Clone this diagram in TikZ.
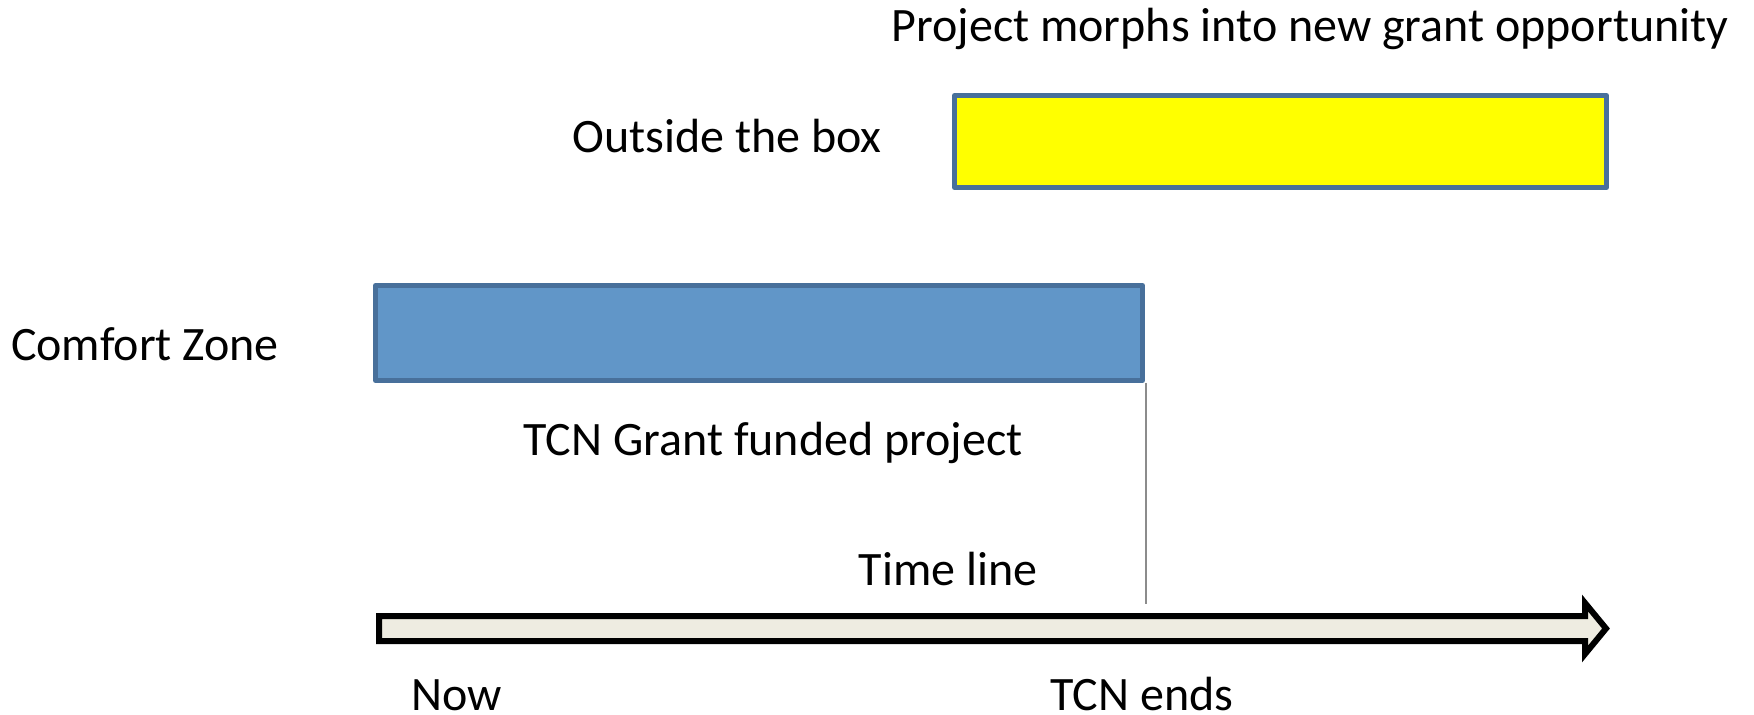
\documentclass[tikz,border=0pt]{standalone}
\usepackage{fontspec}
\setmainfont{Carlito}
\definecolor{boxline}{HTML}{48709B}
\definecolor{bluefill}{HTML}{6196C8}
\definecolor{yellowfill}{HTML}{FFFF00}
\definecolor{arrowfill}{HTML}{EEECE1}
\definecolor{guide}{HTML}{8C8C8C}
\begin{document}
\begin{tikzpicture}[x=0.5pt,y=-0.5pt,
  lbl/.style={anchor=base,inner sep=0pt,font=\fontsize{24}{29}\selectfont},
  bar/.style={draw=boxline,line width=2.5pt,line join=round,inner sep=0pt}]
\useasboundingbox (0,0) rectangle (1754,715);
% boxes
\node[bar,fill=yellowfill,minimum width=326pt,minimum height=46pt] (outside) at (1280.5,141.5) {};
\node[bar,fill=bluefill,minimum width=383.5pt,minimum height=47.5pt] (comfort) at (759,333) {};
% time line arrow
\draw[line width=3pt,fill=arrowfill,line join=miter]
  (379,616) -- (1585,616) -- (1585,603) -- (1606,628.5) -- (1585,654) -- (1585,641) -- (379,641) -- cycle;
\coordinate (tcnend) at (1143,604);
\draw[guide,line width=0.8pt] (comfort.south east) ++(0.5pt,0) coordinate (ce) (ce) -- (ce |- tcnend);
% labels
\node[lbl] (morph) at (1310,42) {Project morphs into new grant opportunity};
\node[lbl] (outl) at (727,153) {Outside the box};
\node[lbl] (comfl) at (145,361) {Comfort Zone};
\node[lbl] (grant) at (773,456) {TCN Grant funded project};
\node[lbl] (tl) at (948,585) {Time line};
\node[lbl] (now) at (457,710) {Now};
\node[lbl] (ends) at (1142,710) {TCN ends};
\end{tikzpicture}
\end{document}
